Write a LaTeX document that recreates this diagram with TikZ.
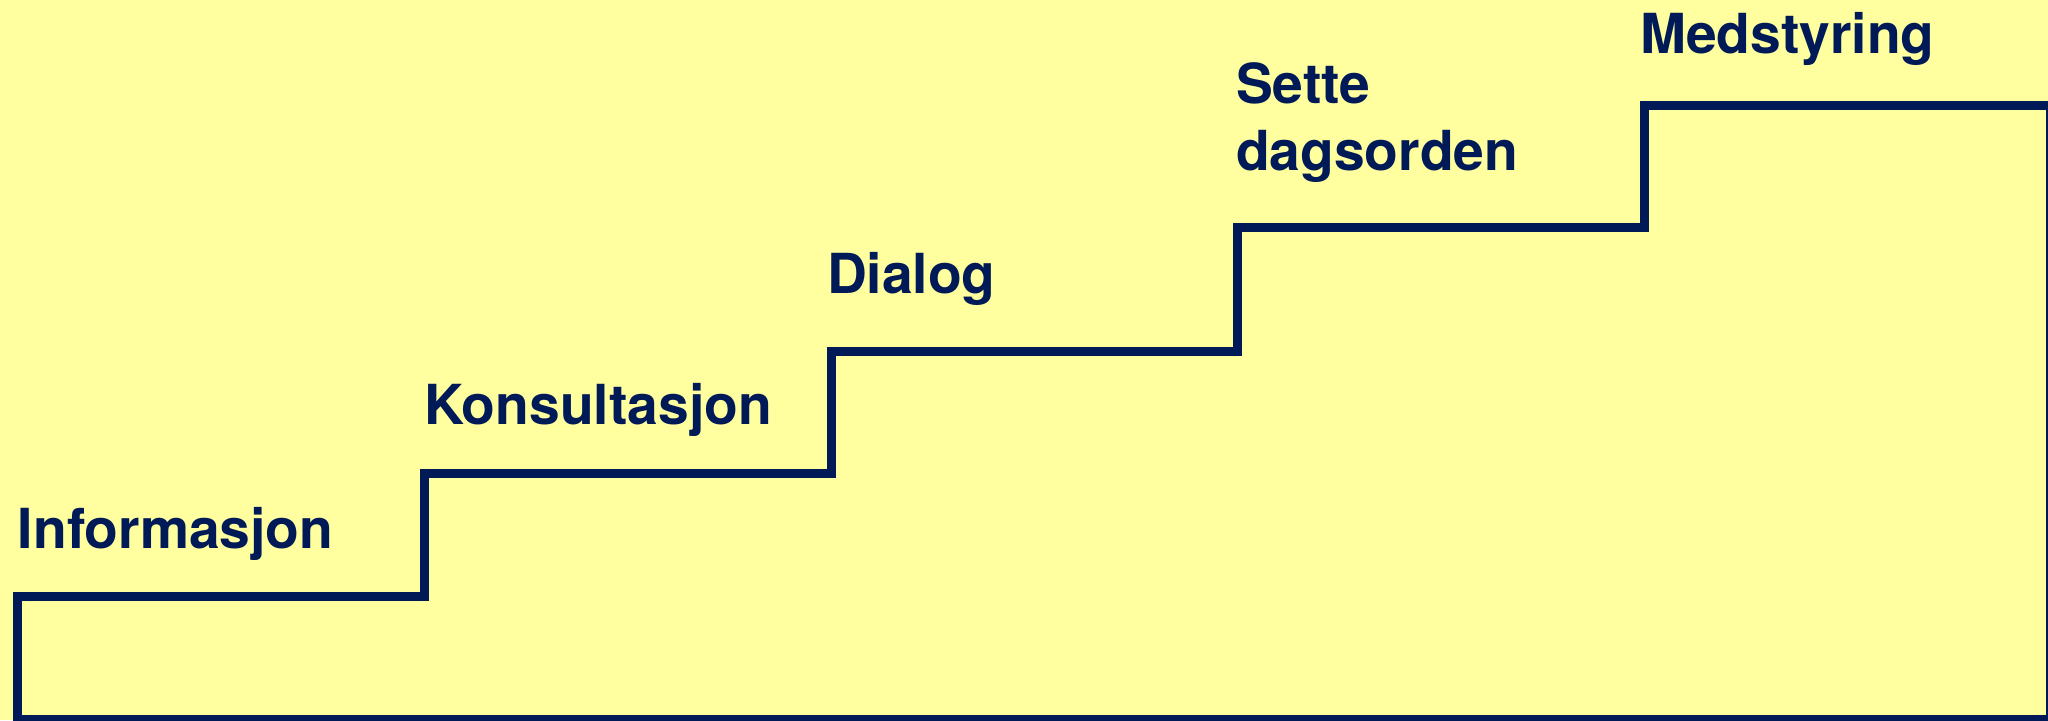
\documentclass[tikz,border=0pt]{standalone}
\usepackage{fontspec}
\setmainfont{TeX Gyre Heros}
\definecolor{bgyellow}{RGB}{255,255,160}
\definecolor{navy}{RGB}{0,26,87}
\begin{document}
\begin{tikzpicture}[x=0.5pt,y=-0.5pt,
  stair/.style={draw=navy,line width=4.5pt,line join=miter},
  lbl/.style={anchor=base west,inner sep=0pt,outer sep=0pt,text=navy,
    font=\fontsize{27.6}{33.5}\selectfont\bfseries}]
\useasboundingbox (0,0) rectangle (2048,720);
\fill[bgyellow] (0,0) rectangle (2048,720);
\begin{scope}
\clip (0,0) rectangle (2048,720);
\coordinate (p0) at (17,719);
\coordinate (p1) at (17,596);
\coordinate (p2) at (424,596);
\coordinate (p3) at (424,473);
\coordinate (p4) at (831,473);
\coordinate (p5) at (831,351);
\coordinate (p6) at (1237,351);
\coordinate (p7) at (1237,227);
\coordinate (p8) at (1644,227);
\coordinate (p9) at (1644,105);
\coordinate (p10) at (2050,105);
\coordinate (p11) at (2050,719);
\draw[stair] (p0) -- (p1) -- (p2) -- (p3) -- (p4) -- (p5) -- (p6) -- (p7) -- (p8) -- (p9) -- (p10) -- (p11) -- cycle;
\end{scope}
\node[lbl] (info) at (18,548) {Informasjon};
\node[lbl] (kons) at (424,424) {Konsultasjon};
\node[lbl] (dial) at (827,293) {Dialog};
\node[lbl] (sette1) at (1236,103) {Sette};
\node[lbl] (sette2) at (1236,170) {dagsorden};
\node[lbl] (med) at (1640,53) {Medstyring};
\end{tikzpicture}
\end{document}
